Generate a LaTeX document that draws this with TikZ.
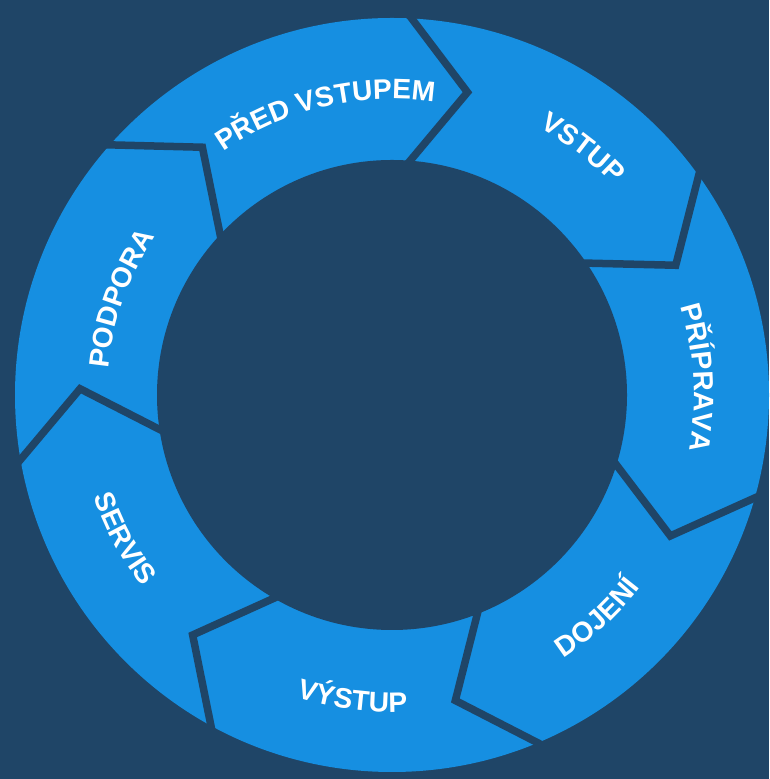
\documentclass[tikz,border=0pt]{standalone}
\usepackage{fontspec}
\newfontfamily\ringfont{Liberation Sans}
\usetikzlibrary{decorations.text}
\definecolor{navy}{RGB}{31,69,103}
\definecolor{ringblue}{RGB}{22,143,225}

\begin{document}
\begin{tikzpicture}[x=0.01cm,y=0.01cm]
      \tikzset{separator/.style={draw=navy,
          line width=0.075cm,
          line join=miter},
        ring label/.style={decorate,
          decoration={text along path, text align=center,
            text={|\ringfont\bfseries\fontsize{8}{10}\selectfont\color{white}|#1}}}
      }
      \fill [navy] (0,0) rectangle (769,779);
      \useasboundingbox (0,0) rectangle (769,779);
      \begin{scope}[shift={(392,384)}]
      \coordinate (C) at (0,0);
      \fill [ringblue] (C) circle (377);
      \fill [navy] (C) circle (235);
      \foreach \k in {0,...,6} {
        \pgfmathsetmacro\b{88-360/7*\k}
        \pgfmathsetmacro\a{\b-12}
        \coordinate (o\k) at (\b:385);
        \coordinate (a\k) at (\a:312);
        \coordinate (i\k) at (\b:222);
        \draw [separator] (o\k) -- (a\k) -- (i\k);
      }
      \path [ring label={PŘED VSTUPEM}] (143.3:296) arc [start angle=143.3, end angle=63.3, radius=296];
      \path [ring label={VSTUP}] (92.3:305) arc [start angle=92.3, end angle=12.3, radius=305];
      \path [ring label={PŘÍPRAVA}] (43.2:302) arc [start angle=43.2, end angle=-36.8, radius=302];
      \path [ring label={DOJENÍ}] (-87.3:314) arc [start angle=-87.3, end angle=-7.3, radius=314];
      \path [ring label={VÝSTUP}] (-137.4:317) arc [start angle=-137.4, end angle=-57.4, radius=317];
      \path [ring label={SERVIS}] (-191.8:315) arc [start angle=-191.8, end angle=-111.8, radius=315];
      \path [ring label={PODPORA}] (200.4:285) arc [start angle=200.4, end angle=120.4, radius=285];
      \end{scope}
    \end{tikzpicture}
\end{document}
